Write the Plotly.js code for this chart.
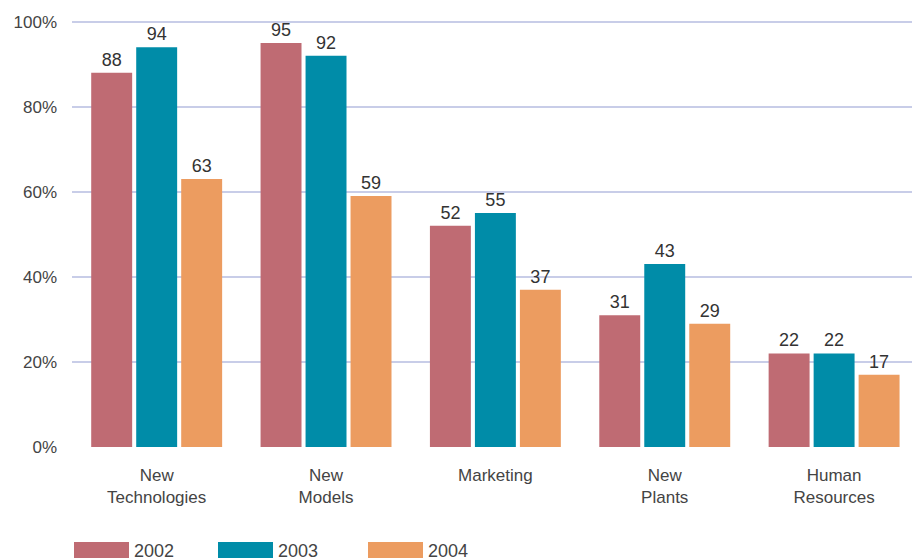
<!DOCTYPE html>
<html>
<head>
<meta charset="utf-8">
<script src="https://cdn.plot.ly/plotly-3.0.1.min.js"></script>
<style>
  html, body { margin: 0; padding: 0; background: #fff; }
  #chart { width: 912px; height: 560px; }
</style>
</head>
<body>
<div id="chart"></div>
<script>
// Survey areas and share of respondents per year (%)
const categories = ['New<br>Technologies', 'New<br>Models', 'Marketing', 'New<br>Plants', 'Human<br>Resources'];
const years = ['2002', '2003', '2004'];
const values2002 = [88, 95, 52, 31, 22];
const values2003 = [94, 92, 55, 43, 22];
const values2004 = [63, 59, 37, 29, 17];
const yTickVals = [0, 20, 40, 60, 80, 100];
const yTickText = ['0%', '20%', '40%', '60%', '80%', '100%'];

const colors = ['#bf6b73', '#008ca8', '#ec9c60'];
const series = [values2002, values2003, values2004];
const FONT = 'Liberation Sans, Arial, sans-serif';

const traces = series.map((vals, i) => ({
  type: 'bar',
  name: years[i],
  x: categories,
  y: vals,
  marker: { color: colors[i] },
  text: vals.map(String),
  textposition: 'outside',
  cliponaxis: false,
  textfont: { family: FONT, size: 18, color: '#333' },
  showlegend: false
}));

// Plot area geometry in pixels, used to place the legend keys below the axis
const W = 912, H = 560, L = 72, R = 0, T = 20, B = 113;
const pw = W - L - R, ph = H - T - B;
const px = x => (x - L) / pw;
const py = y => (H - B - y) / ph;

const legendX = [74, 218, 368];
const shapes = [], annotations = [];
years.forEach((yr, i) => {
  shapes.push({
    type: 'rect', xref: 'paper', yref: 'paper',
    x0: px(legendX[i]), x1: px(legendX[i] + 55),
    y0: py(558), y1: py(542),
    fillcolor: colors[i], line: { width: 0 }
  });
  annotations.push({
    xref: 'paper', yref: 'paper', x: px(legendX[i] + 58), y: py(551),
    xanchor: 'left', yanchor: 'middle', showarrow: false,
    text: yr, font: { family: FONT, size: 18, color: '#444' }
  });
});

const layout = {
  width: W, height: H,
  margin: { l: L, r: R, t: T, b: B },
  paper_bgcolor: '#fff', plot_bgcolor: '#fff',
  barmode: 'group',
  bargap: 0.203,
  bargroupgap: 0.09,
  font: { family: FONT, size: 17, color: '#444' },
  xaxis: {
    range: [-0.5, 4.46],
    showgrid: false, zeroline: false, showline: false,
    ticks: '', ticklabelstandoff: 16,
    tickfont: { family: FONT, size: 17, color: '#444' }
  },
  yaxis: {
    range: [0, 100.4], tickvals: yTickVals, ticktext: yTickText,
    showgrid: true, gridcolor: '#c8cde8', gridwidth: 2,
    zeroline: false, showline: false, ticks: '',
    ticklabelstandoff: 14,
    tickfont: { family: FONT, size: 17, color: '#444' }
  },
  shapes: shapes,
  annotations: annotations,
  showlegend: false
};

Plotly.newPlot('chart', traces, layout, { displayModeBar: false, staticPlot: true });
</script>
</body>
</html>
